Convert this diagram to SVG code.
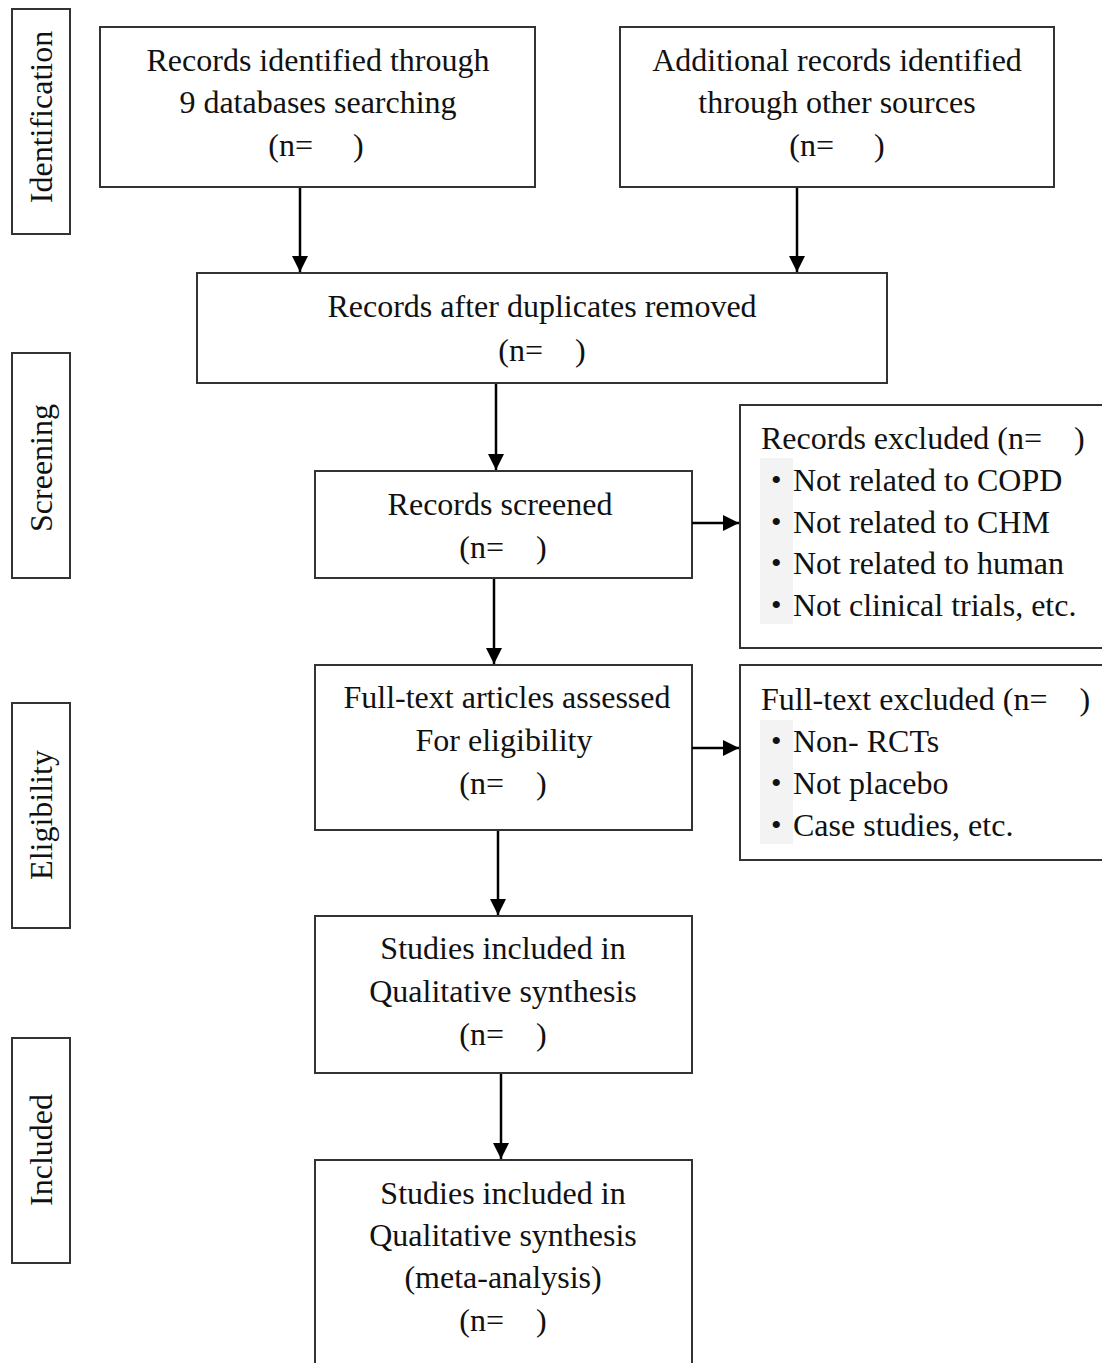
<svg xmlns="http://www.w3.org/2000/svg" width="1102" height="1363" viewBox="0 0 1102 1363">
<defs>
<style>
.box{fill:#fff;stroke:#333;stroke-width:2}
.t{font-family:"Liberation Serif","Times New Roman",serif;font-size:32px;fill:#111;white-space:pre}
.c{text-anchor:middle}
.b{font-size:30px}
.con{stroke:#000;stroke-width:2.5;fill:none}
</style>
<marker id="ahb" viewBox="0 0 16 16" refX="16" refY="8" markerWidth="16" markerHeight="16" orient="auto" markerUnits="userSpaceOnUse">
<path d="M0,0 L16,8 L0,16 Z" fill="#000"/>
</marker>
</defs>
<rect width="1102" height="1363" fill="#fff"/>

<g id="stage-identification">
<rect class="box" x="12" y="9" width="58" height="225"/>
<text class="t c" transform="translate(52,117) rotate(-90)">Identification</text>
</g>
<g id="stage-screening">
<rect class="box" x="12" y="353" width="58" height="225"/>
<text class="t c" transform="translate(52,468) rotate(-90)">Screening</text>
</g>
<g id="stage-eligibility">
<rect class="box" x="12" y="703" width="58" height="225"/>
<text class="t c" transform="translate(52,815) rotate(-90)">Eligibility</text>
</g>
<g id="stage-included">
<rect class="box" x="12" y="1038" width="58" height="225"/>
<text class="t c" transform="translate(52,1150) rotate(-90)">Included</text>
</g>

<g id="node-databases">
<rect class="box" x="100" y="27" width="435" height="160"/>
<text class="t c" x="318" y="71">Records identified through</text>
<text class="t c" x="318" y="113">9 databases searching</text>
<text class="t c" x="316" y="156" xml:space="preserve">(n=     )</text>
</g>
<g id="node-other">
<rect class="box" x="620" y="27" width="434" height="160"/>
<text class="t c" x="837" y="71">Additional records identified</text>
<text class="t c" x="837" y="113">through other sources</text>
<text class="t c" x="837" y="156" xml:space="preserve">(n=     )</text>
</g>
<g id="node-duplicates">
<rect class="box" x="197" y="273" width="690" height="110"/>
<text class="t c" x="542" y="317">Records after duplicates removed</text>
<text class="t c" x="542" y="361" xml:space="preserve">(n=    )</text>
</g>
<g id="node-screened">
<rect class="box" x="315" y="471" width="377" height="107"/>
<text class="t c" x="500" y="515">Records screened</text>
<text class="t c" x="503" y="558" xml:space="preserve">(n=    )</text>
</g>
<g id="node-excluded">
<rect class="box" x="740" y="405" width="370" height="243"/>
<rect x="760" y="458" width="33" height="166" fill="#f3f3f3"/>
<text class="t" x="761" y="449" xml:space="preserve">Records excluded (n=    )</text>
<text class="t b" x="771" y="490">•</text>
<text class="t" x="793" y="491">Not related to COPD</text>
<text class="t b" x="771" y="532">•</text>
<text class="t" x="793" y="533">Not related to CHM</text>
<text class="t b" x="771" y="573">•</text>
<text class="t" x="793" y="574">Not related to human</text>
<text class="t b" x="771" y="615">•</text>
<text class="t" x="793" y="616">Not clinical trials, etc.</text>
</g>
<g id="node-fulltext">
<rect class="box" x="315" y="665" width="377" height="165"/>
<text class="t c" x="507" y="708">Full-text articles assessed</text>
<text class="t c" x="504" y="751">For eligibility</text>
<text class="t c" x="503" y="794" xml:space="preserve">(n=    )</text>
</g>
<g id="node-fulltext-excluded">
<rect class="box" x="740" y="665" width="370" height="195"/>
<rect x="760" y="720" width="33" height="124" fill="#f3f3f3"/>
<text class="t" x="761" y="710" xml:space="preserve">Full-text excluded (n=    )</text>
<text class="t b" x="771" y="751">•</text>
<text class="t" x="793" y="752">Non- RCTs</text>
<text class="t b" x="771" y="793">•</text>
<text class="t" x="793" y="794">Not placebo</text>
<text class="t b" x="771" y="835">•</text>
<text class="t" x="793" y="836">Case studies, etc.</text>
</g>
<g id="node-qualitative">
<rect class="box" x="315" y="916" width="377" height="157"/>
<text class="t c" x="503" y="959">Studies included in</text>
<text class="t c" x="503" y="1002">Qualitative synthesis</text>
<text class="t c" x="503" y="1045" xml:space="preserve">(n=    )</text>
</g>
<g id="node-meta">
<rect class="box" x="315" y="1160" width="377" height="215"/>
<text class="t c" x="503" y="1204">Studies included in</text>
<text class="t c" x="503" y="1246">Qualitative synthesis</text>
<text class="t c" x="503" y="1288">(meta-analysis)</text>
<text class="t c" x="503" y="1331" xml:space="preserve">(n=    )</text>
</g>

<g id="connectors">
<line class="con" x1="300" y1="188" x2="300" y2="272" marker-end="url(#ahb)"/>
<line class="con" x1="797" y1="188" x2="797" y2="272" marker-end="url(#ahb)"/>
<line class="con" x1="496" y1="384" x2="496" y2="470" marker-end="url(#ahb)"/>
<line class="con" x1="494" y1="579" x2="494" y2="664" marker-end="url(#ahb)"/>
<line class="con" x1="498" y1="831" x2="498" y2="915" marker-end="url(#ahb)"/>
<line class="con" x1="501" y1="1074" x2="501" y2="1159" marker-end="url(#ahb)"/>
<line class="con" x1="692" y1="523" x2="739" y2="523" marker-end="url(#ahb)"/>
<line class="con" x1="692" y1="748" x2="739" y2="748" marker-end="url(#ahb)"/>
</g>
</svg>
